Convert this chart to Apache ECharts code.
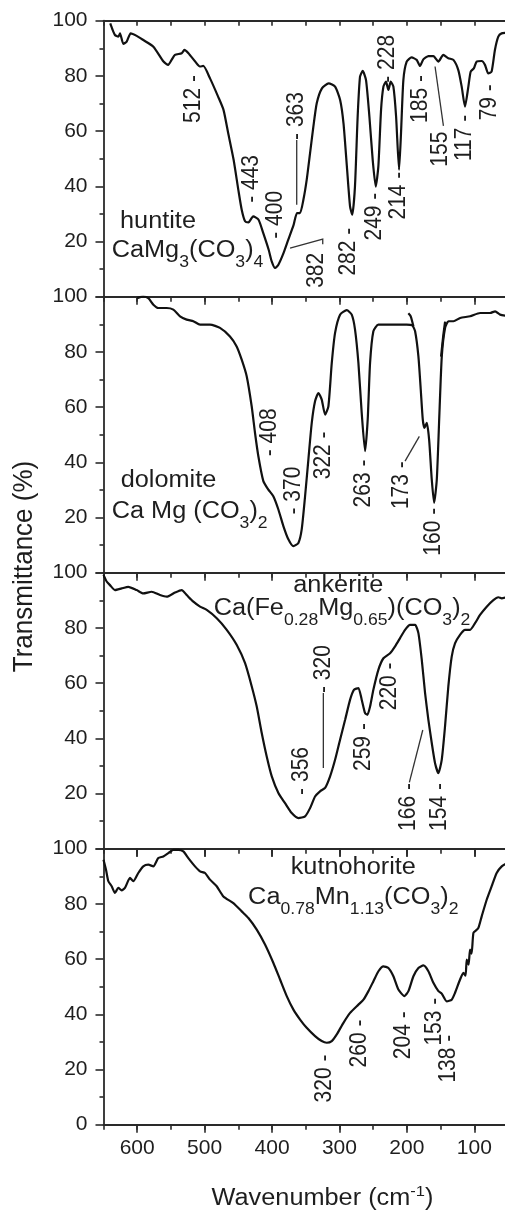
<!DOCTYPE html>
<html>
<head>
<meta charset="utf-8">
<script src="https://cdn.jsdelivr.net/npm/echarts@6/dist/echarts.min.js"></script>
<style>
  html, body { margin: 0; padding: 0; background: #fff; }
  #chart { width: 505px; height: 1213px; }
</style>
</head>
<body>
<div id="chart"></div>
<script>
// spectra, [wavenumber cm-1, transmittance %]
const huntite = [
  [640, 99], [637, 97], [633, 94.8], [628, 94.2], [625.5, 95.4], [620.6, 91.6], [615.6, 92.4], [609.7, 95.4],
  [600.8, 94.5], [591, 93], [576, 90.6], [561, 85.2], [554, 84], [549, 85.8], [544, 87.6], [534, 88.2],
  [530, 89.4], [524, 88.2], [514, 85.2], [507, 83.4], [502, 83.6], [492, 79.1], [480, 72.5], [472, 67.7],
  [465, 59.2], [457, 49.6], [450, 38.7], [445, 31.5], [440, 27.3], [435, 26.9], [428, 29.1], [420, 27.9],
  [413, 23], [405, 17], [400.5, 12.8], [395.5, 10.4], [390.6, 11.6], [383, 15.8], [376, 20.6], [368, 26],
  [363, 30.3], [358.5, 30.3], [353.5, 35.1], [348.6, 42.3], [343.6, 52], [338.7, 61.6], [333.7, 70.1], [326, 75.5],
  [316, 77.3], [306.5, 76.1], [299, 71.3], [294, 62.8], [289, 47.2], [284.3, 32.7], [281, 29.7], [277, 39.9],
  [273, 65.3], [269.5, 79.7], [265.5, 81.8], [260.6, 78.5], [255.6, 65.3], [250.7, 49.6], [246.2, 39.9], [242.3, 47.2],
  [238.3, 67.7], [234.8, 76.1], [231, 77.9], [227.4, 74.9], [224, 77.9], [220, 76.1], [216, 65.3], [211.6, 46],
  [208.7, 59.2], [205.2, 78.5], [200.3, 85.2], [193, 86.7], [185.5, 85.8], [180.5, 83.6], [175.6, 86], [168, 87.2],
  [160.7, 87.2], [153.3, 85.2], [146, 87.6], [138.5, 86.4], [131, 85.8], [123.7, 82.1], [118.7, 76.1], [113.8, 68.9],
  [108.8, 76.1], [105.4, 81.5], [100.5, 82.8], [96.5, 85.2], [89, 85.4], [84.2, 84], [79.2, 80.9], [74.3, 81.6],
  [69.4, 89.4], [64.4, 94.2], [59.5, 95.4], [50, 95.6]
];
const dolomite = [
  [600, 99.5], [591, 100], [583.5, 99.5], [576, 97.1], [568.6, 95.9], [556.3, 95.9], [546.4, 95.3], [536.5, 92.9],
  [526.6, 91.7], [516.7, 91.1], [506.8, 89.9], [492, 89.9], [477.2, 88.7], [462.4, 85.6], [452.5, 82], [445, 77.2],
  [437.6, 71.2], [430.2, 60.3], [425.3, 50.7], [420.3, 42.2], [412.9, 33.2], [405.5, 30.1], [398.1, 27.7], [390.6, 22.9],
  [383.2, 16.9], [375.8, 12.1], [368.3, 9.6], [360.9, 10.8], [356, 15.7], [351, 27.7], [346.1, 41], [341.1, 54.3],
  [336.2, 62.1], [331.2, 65.1], [326.3, 62.7], [321.3, 57.3], [316.4, 60.3], [311.4, 76], [306.5, 86.9], [299.1, 93.5],
  [289.2, 95.1], [281.8, 93.5], [276.9, 88.1], [271.9, 76], [267, 57.9], [262, 44], [258.1, 55.5], [254.6, 76],
  [249.7, 87.5], [242.3, 89.9], [229.9, 89.9], [215.1, 89.9], [200.3, 89.9], [192, 89.6], [187.8, 87.5], [182.9, 78.4],
  [179.4, 66.3], [176.4, 55.5], [173.9, 52.5], [170.5, 54.3], [167, 48.2], [163.1, 33.8], [159.6, 25.3], [155.6, 33.8],
  [151.7, 57.9], [148.2, 78.4], [143.3, 88.7], [138.3, 91.1], [130.9, 91.1], [121, 92.3], [106.2, 92.9], [91.4, 94.1],
  [76.5, 94.1], [69.1, 94.7], [61.7, 93.5], [50, 93]
];
// short overlapping pieces where the dolomite scans were joined
const dolomiteJoinA = [[197.8, 94], [194.3, 92.9], [190.3, 89.3]];
const dolomiteJoinB = [[143.3, 91], [146, 86], [149.3, 78.3]];
const ankerite = [
  [650, 99.2], [645.3, 96.8], [640.4, 95.5], [633, 93.7], [623.1, 94.3], [613.2, 94.9], [600.8, 93.7], [591, 92.5],
  [578.6, 93.1], [566.2, 91.9], [556.3, 91.3], [544, 92.8], [534, 93.7], [526.6, 91.9], [516.7, 89.5], [506.8, 87.7],
  [496.9, 86.5], [482, 83.5], [467.2, 79.3], [452.3, 73.8], [440, 67.2], [430.1, 58.8], [422.7, 51.5], [415.3, 41.9],
  [407.9, 33.4], [400.4, 26.2], [390.6, 20.2], [380.7, 16.5], [370.8, 12.9], [360.9, 11.1], [351, 11.7], [343.6, 14.7],
  [336.2, 18.9], [328.8, 20.8], [321.3, 22], [313.9, 26.2], [306.5, 32.2], [299.1, 39.5], [291.6, 46.7], [284.2, 54],
  [278.3, 57.6], [271.9, 58.2], [267, 54], [262, 49.1], [258.6, 48.5], [254.6, 51.5], [249.7, 57.6], [242.3, 64.8],
  [234.8, 69], [224.9, 70.8], [217.5, 73.3], [210.1, 76.3], [202.7, 79.3], [195.3, 81.1], [187.8, 81.1], [182.9, 78.1],
  [177.9, 68.4], [173, 56.4], [168.1, 46.7], [163.1, 38.3], [158.2, 31], [153.3, 27.4], [148.3, 32.2], [143.4, 44.3],
  [138.5, 58.8], [133.5, 69.6], [128.6, 74.4], [121.2, 77.5], [113.7, 79.3], [106.3, 79.3], [98.9, 81.7], [91.5, 84.7],
  [81.6, 87.7], [71.7, 90.1], [64.3, 91.1], [59.3, 90.7], [50, 91.3]
];
const kutnohorite = [
  [650, 96], [646.3, 92.4], [642.8, 88.2], [637.9, 86.4], [633, 84], [628, 85.8], [623.1, 84.9], [618.2, 85.8],
  [610.7, 89.4], [605.8, 88.2], [598.4, 91.2], [591, 93.6], [583.5, 94.2], [576.1, 93.6], [568.7, 96.6], [561.3, 97.2],
  [553.8, 98.4], [546.4, 99.6], [539, 99.6], [531.6, 99], [524.2, 96.6], [514.3, 93.6], [506.8, 91.8], [499.4, 91.2],
  [492, 88.8], [482.1, 86.4], [472.2, 82.7], [457.4, 80.3], [445, 77.3], [435.1, 74.9], [422.7, 70.7], [410.4, 65.3],
  [398, 58.6], [388.1, 52.6], [378.2, 46.6], [368.3, 41.7], [358.4, 38.1], [348.6, 35.1], [336.2, 32.1], [326.3, 30.3],
  [318.9, 29.7], [311.4, 30.3], [304, 32.7], [294.1, 36.9], [284.2, 40.5], [271.9, 43.5], [264.4, 45.3], [257, 48.4],
  [249.6, 52], [242.2, 55.6], [234.8, 57.4], [227.4, 56.8], [220, 53.8], [212.6, 49], [203.7, 46.6], [197.7, 48.4],
  [190.3, 53.8], [182.9, 56.8], [175.5, 57.7], [168.1, 55.6], [160.7, 51.4], [153.2, 48.4], [148.3, 47.5], [140.9, 44.7],
  [133.5, 45.3], [128.5, 47.8], [121.1, 52.6], [116.2, 55], [113, 54], [111.2, 59.8], [108.5, 58], [106.3, 63.4],
  [104, 62], [101.3, 69.5], [97, 70.5], [93.9, 71.3], [89, 75.5], [81.6, 81.5], [74.2, 86.4], [66.8, 91.2],
  [59.3, 93.6], [50, 95]
];

const xTicks = [600, 500, 400, 300, 200, 100];
const yTicks = [0, 20, 40, 60, 80, 100];

// peak labels: panel, text, anchor wavenumber, anchor T, 'u' = text runs up from anchor, 'd' = runs down
const peakPanel = [0, 0, 0, 0, 0, 0, 0, 0, 0, 0, 0, 0, 0, 1, 1, 1, 1, 1, 1, 2, 2, 2, 2, 2, 2, 3, 3, 3, 3, 3];
const peakText = ['512 -', '- 443', '- 400', '- 363', '382', '282 -', '249 -', '214 -', '- 228', '185 -', '155', '117 -', '79 -',
  '- 408', '- 370', '322 -', '263 -', '173 -', '160 -',
  '- 356', '- 320', '259 -', '220 -', '166 -', '154 -',
  '320 -', '260 -', '204 -', '153 -', '138 -'];
const peakWn = [517, 430, 394, 363.4, 333.7, 287, 247.2, 212.6, 229, 179.4, 149.7, 113.6, 76.6,
  403, 368.4, 323.9, 264.5, 207.6, 160.7,
  355.9, 323.9, 264.5, 224.9, 197.8, 150.7,
  321.4, 269.4, 205.2, 158.2, 138.4];
const peakT = [80.3, 34, 21, 56.8, 15.9, 25, 37.7, 45.3, 77.5, 80.3, 59.8, 65.9, 77,
  42.2, 21.1, 51.2, 41, 40.4, 23.5,
  19.5, 56.4, 45.5, 67.5, 23.8, 23.8,
  25.4, 38.1, 41.1, 46, 32.6];
const peakDir = ['d', 'u', 'u', 'u', 'd', 'd', 'd', 'd', 'u', 'd', 'd', 'd', 'd',
  'u', 'u', 'd', 'd', 'd', 'd',
  'u', 'u', 'd', 'd', 'd', 'd',
  'd', 'd', 'd', 'd', 'd'];

// leader lines from labels to the curve: panel, [wn, T] points
const leaderPanel = [0, 0, 0, 1, 2, 2];
const leaderPts = [
  [[363.4, 56.8], [363.4, 33.3]],
  [[373.3, 17.6], [324.8, 20.9], [324.8, 19]],
  [[158.2, 83.4], [145.8, 61.9]],
  [[202.7, 40.4], [181.5, 49.4]],
  [[323.9, 56.4], [323.9, 29.2]],
  [[196.3, 24], [176.4, 43]]
];

const ink = '#111';
const axisInk = '#2a2a2a';
const textInk = '#1e1e1e';
const font = '"Liberation Sans", Arial, Helvetica, sans-serif';
const panelTops = [20.7, 296.7, 572.7, 848.7];
const panelH = 276;
const spectra = [huntite, dolomite, ankerite, kutnohorite];

const chart = echarts.init(document.getElementById('chart'));

const grids = [];
const xAxes = [];
const yAxes = [];
const series = [];
const bottomAxis = [];

const tickStyle = { color: axisInk, width: 1.6 };

const xBase = (i, position, extra) => Object.assign({
  gridIndex: i, type: 'value', position: position, min: 50, max: 650, interval: 50, inverse: true,
  axisLine: { show: true, onZero: false, lineStyle: { color: axisInk, width: 1.8 } },
  splitLine: { show: false },
  axisLabel: { show: false }
}, extra);

spectra.forEach((data, i) => {
  const last = i === spectra.length - 1;
  grids.push({ left: 103.5, width: 404.5, top: panelTops[i], height: panelH, outerBoundsMode: 'none' });

  bottomAxis.push(xAxes.length);
  xAxes.push(xBase(i, 'bottom', {
    axisTick: { show: last, inside: false, length: 5, lineStyle: tickStyle },
    axisLabel: {
      show: last, customValues: xTicks, fontSize: 21, color: textInk, fontFamily: font, margin: 13
    }
  }));
  if (last) {
    xAxes.push(xBase(i, 'bottom', {
      axisLine: { show: false },
      axisTick: { show: true, inside: false, length: 8, customValues: xTicks, lineStyle: tickStyle }
    }));
  }
  xAxes.push(xBase(i, 'top', {
    axisTick: { show: true, inside: true, length: 5, lineStyle: tickStyle }
  }));
  xAxes.push(xBase(i, 'top', {
    axisLine: { show: false },
    axisTick: { show: true, inside: true, length: 8, customValues: xTicks, lineStyle: tickStyle }
  }));

  yAxes.push({
    gridIndex: i, type: 'value', min: 0, max: 100, interval: 20,
    axisLine: { show: true, onZero: false, lineStyle: { color: axisInk, width: 1.8 } },
    axisTick: { show: true, inside: false, length: 8, lineStyle: tickStyle },
    minorTick: { show: true, splitNumber: 2, length: 4, lineStyle: tickStyle },
    splitLine: { show: false },
    axisLabel: {
      fontSize: 21, color: textInk, fontFamily: font, margin: 16,
      showMinLabel: true, showMaxLabel: true,
      formatter: v => (v === yTicks[0] && !last) ? '' : String(v)
    }
  });

  series.push({
    type: 'line', xAxisIndex: bottomAxis[i], yAxisIndex: i, data: data,
    symbol: 'none', smooth: 0.2, lineStyle: { color: ink, width: 2.2 }, silent: true
  });
});

[dolomiteJoinA, dolomiteJoinB].forEach(d => {
  series.push({
    type: 'line', xAxisIndex: bottomAxis[1], yAxisIndex: 1, data: d,
    symbol: 'none', smooth: 0.2, lineStyle: { color: ink, width: 2.2 }, silent: true
  });
});

chart.setOption({
  animation: false,
  backgroundColor: '#fff',
  grid: grids,
  xAxis: xAxes,
  yAxis: yAxes,
  series: series
});

// text and leader lines placed through the axes
const px = (p, pt) => chart.convertToPixel({ xAxisIndex: bottomAxis[p], yAxisIndex: p }, pt);
const graphic = [];

peakText.forEach((text, k) => {
  const [x, y] = px(peakPanel[k], [peakWn[k], peakT[k]]);
  graphic.push({
    type: 'text', x: x, y: y, rotation: Math.PI / 2, scaleY: 1.1, silent: true,
    style: {
      text: text, fontSize: 21, fontFamily: font, fill: textInk,
      textAlign: peakDir[k] === 'u' ? 'left' : 'right', textVerticalAlign: 'middle'
    }
  });
});

leaderPts.forEach((pts, k) => {
  graphic.push({
    type: 'polyline', silent: true,
    shape: { points: pts.map(pt => px(leaderPanel[k], pt)) },
    style: { stroke: '#333', lineWidth: 1.3, fill: null }
  });
});

const formulaRich = {
  m: { fontSize: 23, lineHeight: 40, fontFamily: font, fill: textInk },
  s: { fontSize: 16, verticalAlign: 'bottom', fontFamily: font, fill: textInk }
};
const mineralText = [
  { x: 120, y: 222, align: 'left', text: 'huntite' },
  { x: 111.7, y: 251, align: 'left', text: '{m|CaMg}{s|3}{m|(CO}{s|3}{m|)}{s|4}' },
  { x: 120.7, y: 481, align: 'left', text: 'dolomite' },
  { x: 111.7, y: 511.5, align: 'left', text: '{m|Ca Mg (CO}{s|3}{m|)}{s|2}' },
  { x: 338.3, y: 586, align: 'center', text: 'ankerite' },
  { x: 342, y: 609, align: 'center', text: '{m|Ca(Fe}{s|0.28}{m|Mg}{s|0.65}{m|)(CO}{s|3}{m|)}{s|2}' },
  { x: 353.3, y: 867.5, align: 'center', text: 'kutnohorite' },
  { x: 353.3, y: 898, align: 'center', text: '{m|Ca}{s|0.78}{m|Mn}{s|1.13}{m|(CO}{s|3}{m|)}{s|2}' }
];
mineralText.forEach(t => {
  graphic.push({
    type: 'text', x: t.x, y: t.y, scaleX: 1.1, silent: true,
    style: {
      text: t.text, rich: formulaRich, fontSize: 23, fontFamily: font, fill: textInk,
      textAlign: t.align, textVerticalAlign: 'middle'
    }
  });
});

// axis titles
graphic.push({
  type: 'text', x: 24, y: 566.5, rotation: Math.PI / 2, scaleY: 1.08, silent: true,
  style: { text: 'Transmittance (%)', fontSize: 26, fontFamily: font, fill: textInk, textAlign: 'center', textVerticalAlign: 'middle' }
});
graphic.push({
  type: 'text', x: 322.5, y: 1199, scaleX: 1.1, silent: true,
  style: {
    text: '{m|Wavenumber (cm}{p|-1}{m|)}',
    rich: {
      m: { fontSize: 23, lineHeight: 30, fontFamily: font, fill: textInk },
      p: { fontSize: 15, verticalAlign: 'top', fontFamily: font, fill: textInk }
    },
    fill: textInk, textAlign: 'center', textVerticalAlign: 'middle'
  }
});

chart.setOption({ graphic: graphic });
</script>
</body>
</html>
